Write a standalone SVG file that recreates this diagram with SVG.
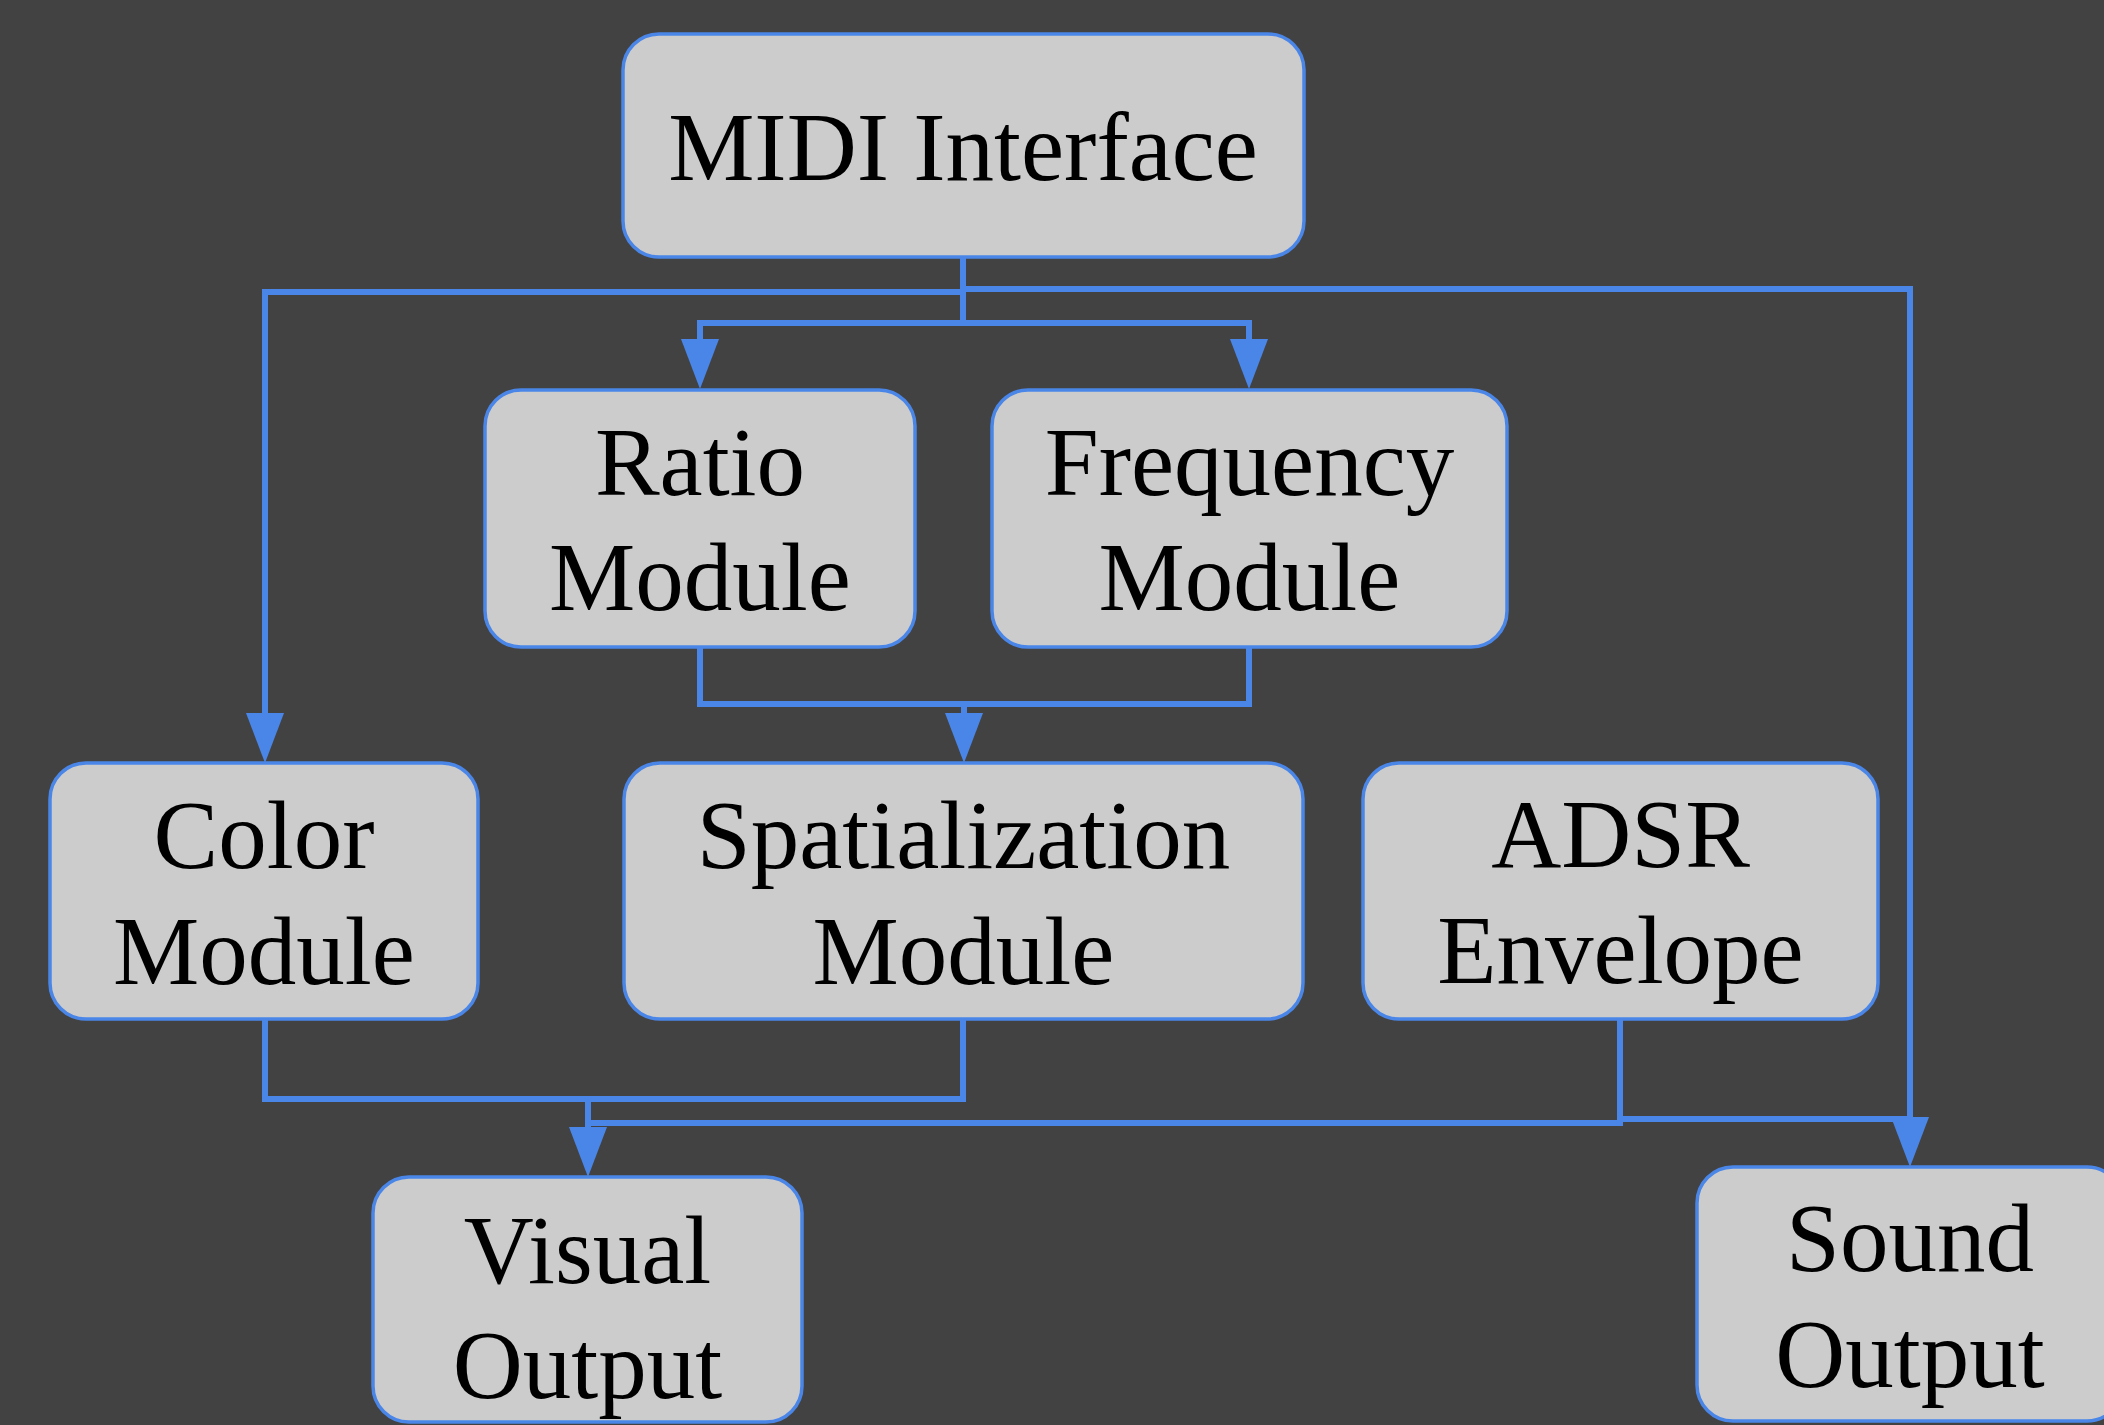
<svg xmlns="http://www.w3.org/2000/svg" width="2104" height="1425" viewBox="0 0 2104 1425">
<style>
.box{fill:#cccccc;stroke:#4a86e8;stroke-width:3.5}
.lbl{font-family:"Liberation Serif","Times New Roman",serif;font-size:97px;fill:#000;text-anchor:middle}
.edge{fill:none;stroke:#4a86e8;stroke-width:6;stroke-linejoin:miter}
</style>
<defs>
<marker id="ah" markerUnits="userSpaceOnUse" markerWidth="50" markerHeight="38" viewBox="0 0 50 38" refX="0" refY="19" orient="auto">
<path d="M0,0 L50,19 L0,38 z" fill="#4a86e8"/>
</marker>
</defs>
<rect width="2104" height="1425" fill="#424242"/>
<g id="connectors">
<path class="edge" d="M963,257 V292 H265 V713" marker-end="url(#ah)"/>
<path class="edge" d="M963,257 V289 H1910 V1117" marker-end="url(#ah)"/>
<path class="edge" d="M963,289 V323 H700 V339" marker-end="url(#ah)"/>
<path class="edge" d="M963,323 H1249 V339" marker-end="url(#ah)"/>
<path class="edge" d="M700,647 V704 H964 V713" marker-end="url(#ah)"/>
<path class="edge" d="M1249,647 V704 H964"/>
<path class="edge" d="M265,1019 V1099 H588 V1127" marker-end="url(#ah)"/>
<path class="edge" d="M963,1019 V1099 H588"/>
<path class="edge" d="M1620,1019 V1123 H588"/>
<path class="edge" d="M1620,1119 H1910"/>
</g>
<g id="midi">
<rect class="box" x="623" y="34" width="681" height="223" rx="36"/>
<text class="lbl" x="963" y="180">MIDI Interface</text>
</g>
<g id="ratio">
<rect class="box" x="485" y="390" width="430" height="257" rx="36"/>
<text class="lbl" x="700" y="495">Ratio</text>
<text class="lbl" x="700" y="610">Module</text>
</g>
<g id="frequency">
<rect class="box" x="992" y="390" width="515" height="257" rx="36"/>
<text class="lbl" x="1249.5" y="495">Frequency</text>
<text class="lbl" x="1249.5" y="610">Module</text>
</g>
<g id="color">
<rect class="box" x="50" y="763" width="428" height="256" rx="36"/>
<text class="lbl" x="264" y="868">Color</text>
<text class="lbl" x="264" y="984">Module</text>
</g>
<g id="spatialization">
<rect class="box" x="624" y="763" width="679" height="256" rx="36"/>
<text class="lbl" x="963.5" y="868">Spatialization</text>
<text class="lbl" x="963.5" y="984">Module</text>
</g>
<g id="adsr">
<rect class="box" x="1363" y="763" width="515" height="256" rx="36"/>
<text class="lbl" x="1620.5" y="867">ADSR</text>
<text class="lbl" x="1620.5" y="983">Envelope</text>
</g>
<g id="visual">
<rect class="box" x="373" y="1177" width="429" height="245" rx="36"/>
<text class="lbl" x="587.5" y="1283">Visual</text>
<text class="lbl" x="587.5" y="1398">Output</text>
</g>
<g id="sound">
<rect class="box" x="1697" y="1167" width="426" height="254" rx="36"/>
<text class="lbl" x="1910" y="1271">Sound</text>
<text class="lbl" x="1910" y="1387">Output</text>
</g>
</svg>
